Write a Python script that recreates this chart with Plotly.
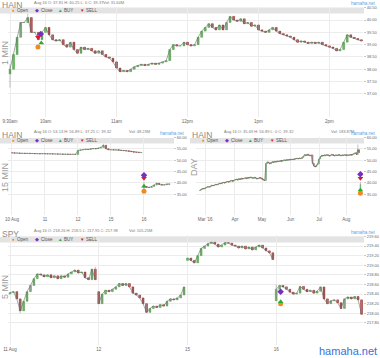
import pandas as pd
import plotly.graph_objects as go

W, H = 380, 358

# ---------------- data ----------------
# Panel 1: HAIN "1 MIN" (one close read every 3 minutes from 9:30am, Aug 16 2016)
m1_close = [38.0, 38.6, 39.3, 39.9, 39.9, 40.1, 39.5, 39.5, 39.2, 39.5,
            39.7, 39.4, 39.2, 39.15, 39.2, 39.0, 38.9, 39.1, 38.8, 38.65,
            38.9, 38.8, 38.85, 38.75, 38.65, 38.75, 38.6, 38.5, 38.45, 38.3,
            38.05, 37.9, 37.95, 37.9, 38.0, 38.1, 38.15, 38.2, 38.15, 38.2,
            38.25, 38.2, 38.25, 38.3, 38.35, 38.8, 39.0, 38.95, 38.95, 39.1,
            39.0, 38.95, 39.0, 39.3, 39.55, 39.7, 39.85, 39.7, 39.6, 39.8,
            39.6, 39.9, 40.15, 40.0, 39.95, 40.05, 39.85, 39.9, 39.75, 39.8,
            39.6, 39.55, 39.5, 39.6, 39.7, 39.55, 39.45, 39.4, 39.35, 39.3,
            39.2, 39.1, 39.15, 39.1, 39.05, 39.1, 39.05, 39.1, 39.0, 38.95,
            38.9, 38.85, 38.75, 38.8, 39.1, 39.4, 39.3, 39.25, 39.2, 39.15]
m1_open_at = {0: 37.81}
m1_high_at = {0: 38.2, 5: 40.25}
m1_low_at = {0: 37.25}
m1_yticks = [37.0, 37.5, 38.0, 38.5, 39.0, 39.5, 40.0, 40.5]
m1_xtick_times = ["09:30", "10:00", "11:00", "12:00", "13:00", "14:00"]
m1_xtick_text = ["9:30am", "10am", "11am", "12pm", "1pm", "2pm"]
m1_sig_open = (["09:53:36"], [38.9])
m1_sig_close = (["09:56:00"], [39.43])
m1_sig_buy = (["09:56:24"], [39.07])
m1_sig_sell = (["09:53:36"], [39.3])

# Panel 2: HAIN "15 MIN"
m15_days = ["10 Aug", "11", "12", "15", "16"]
m15_aug10 = [53.2, 53.1, 53.15, 53.0, 53.05, 52.95, 53.0, 52.9, 52.95, 52.85, 52.9, 52.8, 52.85]
m15_aug11 = [52.8, 52.75, 52.8, 52.7, 52.75, 52.65, 52.7, 52.6, 52.65, 52.6, 52.55, 52.6, 52.5]
m15_aug12 = [54.3, 54.5, 54.6, 54.8, 54.7, 55.0, 55.1, 55.0, 55.3, 55.6, 56.6, 55.0, 54.6]
m15_aug15 = [54.6, 54.5, 54.6, 54.4, 54.3, 54.2, 54.1, 53.9, 53.7, 53.5, 53.4, 53.3, 53.35]
m15_aug16 = [38.4, 38.0, 37.9, 38.4, 39.0, 39.8, 39.3, 39.0, 39.1, 39.5, 39.4]
m15_bars_per_day = 13
m15_open_at = {0: 53.25, 52: 37.81}
m15_high_at = {36: 56.9, 52: 40.25}
m15_low_at = {52: 37.25}
hain_yticks = [35, 40, 45, 50, 55, 60]
m15_sig_open = ([4.0], [36.3])
m15_sig_close = ([4.0], [43.3])
m15_sig_buy = ([4.0], [38.5])
m15_sig_sell = ([4.0], [42.0])

# Panel 3: HAIN "DAY" (business days 24 Feb - 16 Aug 2016)
day_feb = [36.8, 37.2, 37.5, 37.3]
day_mar = [37.8, 38.0, 38.3, 38.1, 38.5, 38.9, 38.7, 39.0, 39.3, 39.1, 39.5, 39.8,
           39.6, 40.0, 40.2, 39.9, 40.4, 40.6, 40.3, 40.8, 41.0, 40.7, 41.1]
day_apr = [41.3, 41.6, 41.2, 41.8, 41.5, 42.0, 41.7, 41.9, 42.2, 41.8, 42.4, 42.1,
           42.5, 42.2, 42.0, 42.4, 42.1, 41.7, 41.9, 42.3, 42.0]
day_may = [41.6, 41.2, 41.0, 48.5, 49.2, 48.8, 48.4, 48.9, 49.3, 49.0, 49.5, 49.2,
           49.6, 49.4, 49.8, 49.5, 49.9, 50.1, 49.8, 50.2, 50.0, 50.3]
day_jun = [50.1, 50.4, 50.2, 50.6, 50.5, 50.8, 50.6, 50.9, 50.7, 51.2, 51.8, 52.4,
           52.0, 52.6, 52.2, 51.9, 52.3, 48.6, 47.4, 47.0, 47.8, 48.4]
day_jul = [50.5, 51.6, 52.1, 51.8, 52.3, 52.0, 52.4, 52.1, 51.8, 52.2, 52.5, 52.1,
           51.9, 52.3, 52.0, 52.4, 52.2, 51.9, 52.3, 52.1, 52.4]
day_aug = [52.0, 52.3, 52.1, 52.5, 52.2, 52.6, 52.8, 53.2, 52.5, 54.6, 53.35, 39.32]
day_open_at = {0: 36.5, 124: 37.81}
day_high_at = {122: 56.9, 124: 40.25}
day_low_at = {124: 37.25}
day_month_text = ["Mar '16", "Apr", "May", "Jun", "Jul", "Aug"]
day_sig_open = ([124], [35.4])
day_sig_close = ([124], [43.8])
day_sig_buy = ([124], [36.8])
day_sig_sell = ([124], [42.0])

# Panel 4: SPY "5 MIN"
spy_days = ["11 Aug", "12", "15", "16"]
spy_aug11 = [218.43, 218.45, 218.3, 218.05, 218.25, 218.45, 218.58, 218.72, 218.82, 218.8,
             218.76, 218.8, 218.74, 218.78, 218.72, 218.78, 218.75, 218.82, 218.86, 218.9,
             218.84, 218.86, 218.74, 218.7, 218.92, 218.7]
spy_aug12 = [218.2, 218.4, 218.48, 218.45, 218.5, 218.55, 218.62, 218.58, 218.62, 218.55,
             218.42, 218.38, 218.32, 218.2, 218.02, 218.1, 218.15, 218.12, 218.18, 218.15,
             218.25, 218.3, 218.28, 218.32, 218.38, 218.55]
spy_aug15 = [219.15, 219.1, 219.05, 219.2, 219.35, 219.4, 219.45, 219.48, 219.44, 219.38,
             219.42, 219.47, 219.46, 219.42, 219.4, 219.36, 219.4, 219.34, 219.38, 219.32,
             219.38, 219.42, 219.36, 219.3, 219.26, 219.12]
spy_aug16 = [218.5, 218.58, 218.55, 218.5, 218.44, 218.4, 218.42, 218.56, 218.5, 218.45,
             218.48, 218.42, 218.46, 218.55, 218.3, 218.2, 218.26, 218.28, 218.22, 218.1,
             218.3, 218.34, 218.3, 218.35, 218.28, 217.98]
spy_bars_per_day = 26
spy_open_at = {0: 218.4, 26: 218.45, 52: 219.1, 78: 218.26}
spy_high_at = {25: 218.97, 78: 218.6}
spy_low_at = {3: 218.0}
spy_yticks = [217.8, 218.0, 218.2, 218.4, 218.6, 218.8, 219.0, 219.2, 219.4, 219.6]
spy_sig_open = ([3.05], [218.2])
spy_sig_close = ([3.05], [218.45])
spy_sig_buy = ([3.05], [218.24])

# ---------------- helpers ----------------
GREEN = "#45a03a"
RED = "#8e1b1b"
WICK = "#a8a8a8"
LINK = "#6a6a6a"
BODY = 0.55  # body width as share of bar spacing


def build_ohlc(closes, open_at, high_at, low_at):
    o, h, l = [], [], []
    prev = None
    for i, c in enumerate(closes):
        op = open_at.get(i, prev)
        hi, lo = max(op, c), min(op, c)
        if i in high_at:
            hi = max(hi, high_at[i])
        if i in low_at:
            lo = min(lo, low_at[i])
        o.append(op); h.append(hi); l.append(lo)
        prev = c
    return o, h, l


def candles(fig, x, closes, open_at, high_at, low_at, xa, ya, bw):
    o, h, l = build_ohlc(closes, open_at, high_at, low_at)
    wx, wy = [], []
    for xi, hi, lo in zip(x, h, l):
        wx += [xi, xi, None]
        wy += [lo, hi, None]
    fig.add_trace(go.Scatter(x=wx, y=wy, mode="lines", xaxis=xa, yaxis=ya,
                             line=dict(color=WICK, width=0.7), hoverinfo="skip"))
    lx, ly = [], []
    for i, (xi, c) in enumerate(zip(x, closes)):
        if i in open_at and i > 0:
            lx.append(None); ly.append(None)
        lx += [xi]
        ly += [c]
    fig.add_trace(go.Scatter(x=lx, y=ly, mode="lines", xaxis=xa, yaxis=ya,
                             line=dict(color=LINK, width=0.6), hoverinfo="skip",
                             connectgaps=False))
    base = [min(a, b) for a, b in zip(o, closes)]
    hgt = [abs(b - a) for a, b in zip(o, closes)]
    cols = [GREEN if c >= a else RED for a, c in zip(o, closes)]
    fig.add_trace(go.Bar(x=x, y=hgt, base=base, width=[bw] * len(x), xaxis=xa, yaxis=ya,
                         marker=dict(color=cols, line=dict(color=cols, width=0.4)),
                         hoverinfo="skip"))


def signals(fig, xa, ya, sig_open=None, sig_close=None, sig_buy=None, sig_sell=None):
    spec = [(sig_open, "circle", "#f08a24"), (sig_close, "diamond", "#7a2cc4"),
            (sig_buy, "triangle-up", "#2ea82e"), (sig_sell, "triangle-down", "#d42020")]
    for s, sym, col in spec:
        if s is None:
            continue
        fig.add_trace(go.Scatter(x=s[0], y=s[1], mode="markers", xaxis=xa, yaxis=ya,
                                 marker=dict(symbol=sym, size=5, color=col,
                                             line=dict(width=0)),
                                 hoverinfo="skip"))


fig = go.Figure()

# panel 1
m1_times = list(pd.date_range("2016-08-16 09:30", periods=len(m1_close), freq="3min"))
candles(fig, m1_times, m1_close, m1_open_at, m1_high_at, m1_low_at, "x", "y",
        BODY * 3 * 60 * 1000)


def ts(lst):
    return [pd.Timestamp("2016-08-16 " + s) for s in lst]


signals(fig, "x", "y", (ts(m1_sig_open[0]), m1_sig_open[1]),
        (ts(m1_sig_close[0]), m1_sig_close[1]),
        (ts(m1_sig_buy[0]), m1_sig_buy[1]),
        (ts(m1_sig_sell[0]), m1_sig_sell[1]))

# panel 2
m15_close = m15_aug10 + m15_aug11 + m15_aug12 + m15_aug15 + m15_aug16
m15_x = [i // m15_bars_per_day + (i % m15_bars_per_day) / m15_bars_per_day
         for i in range(len(m15_close))]
candles(fig, m15_x, m15_close, m15_open_at, m15_high_at, m15_low_at, "x2", "y2",
        BODY / m15_bars_per_day)
signals(fig, "x2", "y2", m15_sig_open, m15_sig_close, m15_sig_buy, m15_sig_sell)

# panel 3
day_close = day_feb + day_mar + day_apr + day_may + day_jun + day_jul + day_aug
day_dates = pd.bdate_range("2016-02-24", periods=len(day_close))
day_x = list(range(len(day_close)))
day_tickvals = [i for i in range(1, len(day_dates)) if day_dates[i].month != day_dates[i - 1].month]
candles(fig, day_x, day_close, day_open_at, day_high_at, day_low_at, "x3", "y3", BODY)
signals(fig, "x3", "y3", day_sig_open, day_sig_close, day_sig_buy, day_sig_sell)

# panel 4
spy_close = spy_aug11 + spy_aug12 + spy_aug15 + spy_aug16
spy_x = [i // spy_bars_per_day + (i % spy_bars_per_day) / spy_bars_per_day
         for i in range(len(spy_close))]
candles(fig, spy_x, spy_close, spy_open_at, spy_high_at, spy_low_at, "x4", "y4",
        BODY / spy_bars_per_day)
signals(fig, "x4", "y4", spy_sig_open, spy_sig_close, spy_sig_buy, None)

# ---------------- layout ----------------
def dx(a, b):
    return [a / W, b / W]


def dy(top, bottom):
    return [1 - bottom / H, 1 - top / H]


GRID = "#ececec"
xbase = dict(showgrid=True, gridcolor=GRID, gridwidth=1, zeroline=False, showline=False,
             ticks="", tickfont=dict(size=4.5, color="#666"), automargin=False,
             fixedrange=True)
ybase = dict(side="right", showgrid=True, gridcolor=GRID, zeroline=False, showline=False,
             ticks="outside", ticklen=2, tickcolor="#c8c8c8", automargin=False,
             tickfont=dict(size=4, color="#666"), fixedrange=True)

fig.update_layout(
    width=W, height=H, margin=dict(l=0, r=0, t=0, b=0, autoexpand=False),
    paper_bgcolor="white", plot_bgcolor="rgba(0,0,0,0)", showlegend=False,
    barmode="overlay", bargap=0,
    font=dict(family="Liberation Sans, Arial, sans-serif", color="#777"),
    xaxis=dict(xbase, domain=dx(8, 363), anchor="y", type="date",
               range=["2016-08-16 09:28:18", "2016-08-16 14:28:20"],
               tickvals=[pd.Timestamp("2016-08-16 " + t) for t in m1_xtick_times],
               ticktext=m1_xtick_text),
    yaxis=dict(ybase, domain=dy(7, 117), anchor="x", range=[36.06, 40.53],
               tickvals=m1_yticks, tickformat=".2f"),
    xaxis2=dict(xbase, domain=dx(8, 173), anchor="y2", range=[-0.121, 4.879],
                tickvals=list(range(len(m15_days))), ticktext=m15_days),
    yaxis2=dict(ybase, domain=dy(137, 215), anchor="x2", range=[25.8, 60.2],
                tickvals=hain_yticks, tickformat=".2f"),
    xaxis3=dict(xbase, domain=dx(196, 363), anchor="y3", range=[-3.1, 126.0],
                tickvals=day_tickvals, ticktext=day_month_text),
    yaxis3=dict(ybase, domain=dy(137, 215), anchor="x3", range=[25.8, 60.2],
                tickvals=hain_yticks, tickformat=".2f"),
    xaxis4=dict(xbase, domain=dx(8, 363), anchor="y4", range=[-0.0225, 3.978],
                tickvals=list(range(len(spy_days))), ticktext=spy_days),
    yaxis4=dict(ybase, domain=dy(235, 345), anchor="x4", range=[217.34, 219.63],
                tickvals=spy_yticks, tickformat=".2f"),
)

shapes = []
for x0, x1, y0, y1 in [(0, 364, 7.5, 13.5), (0, 174, 138, 143.5), (190, 364, 138, 143.5),
                       (0, 364, 237, 242.5)]:
    shapes.append(dict(type="rect", xref="paper", yref="paper", x0=x0 / W, x1=x1 / W,
                       y0=1 - y1 / H, y1=1 - y0 / H, fillcolor="#e3e3e3",
                       line=dict(width=0), layer="below"))
fig.update_layout(shapes=shapes)

ann = []


def txt(x, y, s, size, color, anchor="left", angle=0, vanchor="middle"):
    ann.append(dict(x=x / W, y=1 - y / H, xref="paper", yref="paper", text=s,
                    showarrow=False, xanchor=anchor, yanchor=vanchor,
                    font=dict(size=size, color=color), textangle=angle,
                    borderpad=0))


HEAD = "#8a8a8a"
SMALL = "#7a7a7a"


def header(x0, y0, name, info, vol, volx):
    txt(x0 + 1, y0 - 0.5, name, 8.5, HEAD, vanchor="top")
    txt(x0 + 33, y0 + 3, info, 4, SMALL)
    txt(volx, y0 + 3, vol, 4, SMALL)


def legend_bar(x0, y):
    items = [("●", "#f08a24", "Open", 13), ("◆", "#7a2cc4", "Close", 37),
             ("▲", "#2ea82e", "BUY", 60), ("▼", "#d42020", "SELL", 82)]
    for glyph, col, lab, off in items:
        txt(x0 + off, y, glyph, 4.5, col, anchor="center")
        txt(x0 + off + 3, y, lab, 4.5, "#555")


header(0, 0, "HAIN", "Aug 16 O: 37.81 H: 40.25 L: 0 C: 39.37", "Vol: 31.64M", 102)
legend_bar(0, 10.7)
txt(377, 4, "hamaha.net", 4.5, "#5a9fe6", anchor="right")
txt(5, 53, "1 MIN", 9, "#9a9a9a", anchor="center", angle=-90)

header(0, 129, "HAIN", "Aug 16 O: 53.13 H: 56.89 L: 37.25 C: 39.32", "Vol: 48.23M", 128)
legend_bar(0, 140.9)
txt(186, 133, "hamaha.net", 4.5, "#5a9fe6", anchor="right")
txt(5, 178, "15 MIN", 9, "#9a9a9a", anchor="center", angle=-90)

header(190, 129, "HAIN", "Aug 16 O: 35.69 H: 56.89 L: 0 C: 39.32", "Vol: 183.87M", 330)
legend_bar(190, 140.9)
txt(377, 133, "hamaha.net", 4.5, "#5a9fe6", anchor="right")
txt(194, 167, "DAY", 9, "#9a9a9a", anchor="center", angle=-90)

header(0, 228, "SPY", "Aug 16 O: 218.26 H: 218.5 L: 217.95 C: 217.98", "Vol: 105.25M", 128)
legend_bar(0, 239.9)
txt(377, 232, "hamaha.net", 4.5, "#5a9fe6", anchor="right")
txt(5, 287, "5 MIN", 9, "#9a9a9a", anchor="center", angle=-90)

txt(378, 351, "hamaha.net", 11, "#3b6fd8", anchor="right")

fig.update_layout(annotations=ann)
fig.write_html(
    "out.html",
    config={"displayModeBar": False, "staticPlot": True},
    post_script="document.body.style.margin='0';document.body.style.padding='0';"
                "document.body.style.overflow='hidden';"
                "document.documentElement.style.overflow='hidden';")
